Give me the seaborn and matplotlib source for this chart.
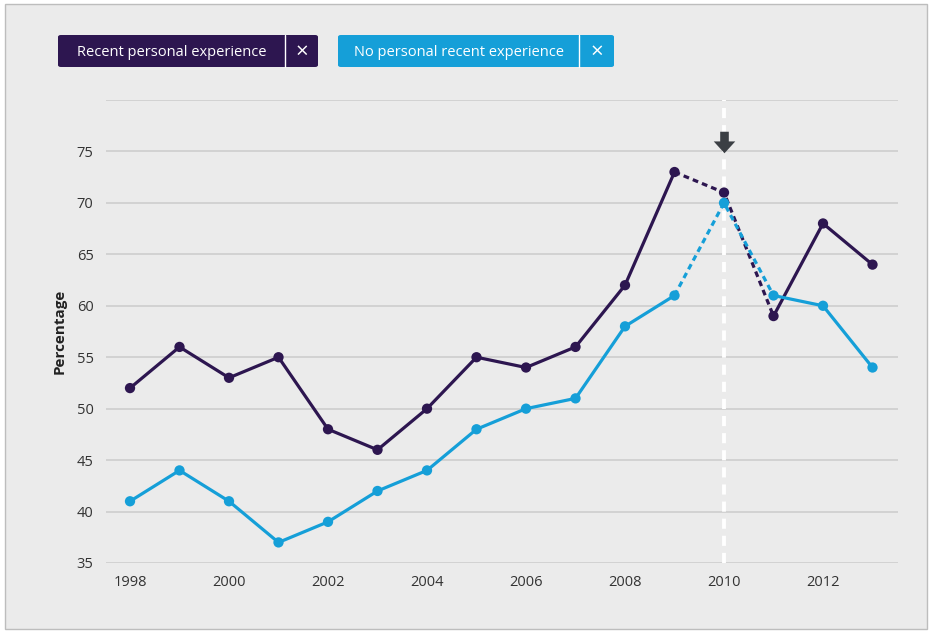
import numpy as np
import pandas as pd
import seaborn as sns
import matplotlib.pyplot as plt
from matplotlib.patches import Rectangle, FancyBboxPatch
from matplotlib.path import Path

### Data
years = [1998, 1999, 2000, 2001, 2002, 2003, 2004, 2005, 2006, 2007, 2008, 2009, 2010, 2011, 2012, 2013]
recent = [52, 56, 53, 55, 48, 46, 50, 55, 54, 56, 62, 73, 71, 59, 68, 64]
no_recent = [41, 44, 41, 37, 39, 42, 44, 48, 50, 51, 58, 61, 70, 61, 60, 54]
series_names = ["Recent personal experience", "No personal recent experience"]
y_ticks = [35, 40, 45, 50, 55, 60, 65, 70, 75]
x_ticks = [1998, 2000, 2002, 2004, 2006, 2008, 2010, 2012]
marked_year = 2010

dark = "#2d1650"
light = "#159fd8"
bg = "#ebebeb"

data = pd.DataFrame({"year": years * 2,
                     "value": recent + no_recent,
                     "series": [series_names[0]] * len(years) + [series_names[1]] * len(years)})

sns.set_theme(style="white")
plt.rcParams['font.family'] = ['Open Sans', 'DejaVu Sans']

W, H = 936, 634
fig = plt.figure(figsize=(W / 100, H / 100), dpi=100, facecolor="white")
fig.patches.append(Rectangle((5 / W, 1 - 629 / H), 922 / W, 625 / H, transform=fig.transFigure,
                             facecolor=bg, edgecolor="#bdbdbd", lw=1, zorder=-10))

ax = fig.add_axes([106 / W, 1 - 563 / H, 792 / W, 463 / H])
ax.set_facecolor(bg)

############ Lines: solid parts, dashed around the marked year ##########
colors = {series_names[0]: dark, series_names[1]: light}
for name in series_names:
    d = data[data.series == name]
    for part, style in [(d[d.year <= 2009], "-"), (d[d.year >= 2011], "-"),
                        (d[(d.year >= 2009) & (d.year <= 2011)], (0, (1.8, 1.3)))]:
        sns.lineplot(data=part, x="year", y="value", ax=ax, color=colors[name],
                     lw=2.3, linestyle=style, zorder=3)
    sns.scatterplot(data=d, x="year", y="value", ax=ax, color=colors[name],
                    s=55, edgecolor="none", zorder=4)

######### Marker line for 2010 ###########
ax.axvline(marked_year, color="white", lw=2.8, linestyle=(0, (2.6, 1.8)), zorder=2)
arrow = Path([(-0.2, 0.5), (0.2, 0.5), (0.2, 0.05), (0.5, 0.05), (0, -0.5),
              (-0.5, 0.05), (-0.2, 0.05), (-0.2, 0.5)])
ax.plot([marked_year], [75.9], marker=arrow, markersize=15.5, color="#3b3f44",
        markeredgewidth=0, zorder=5, clip_on=False)

ax.set_xlim(1997.515, 2013.515)
ax.set_ylim(35, 80)
ax.set_yticks(y_ticks + [80])
ax.set_yticklabels([str(v) for v in y_ticks] + [""])
ax.set_xticks(x_ticks)
ax.set_xticklabels([str(v) for v in x_ticks])
ax.grid(axis="y", color="#cdcdcd", lw=1.2)
ax.grid(axis="x", visible=False)
ax.set_axisbelow(True)
for s in ax.spines.values():
    s.set_visible(False)
ax.tick_params(length=0, labelsize=10.5, labelcolor="#333333", pad=9)
ax.set_xlabel("")
ax.set_ylabel("Percentage", fontsize=11, fontweight="bold", color="#222222", labelpad=7)
if ax.get_legend() is not None:
    ax.get_legend().remove()

########## Legend buttons ##############
def button(x0, x1, xdiv, label, color):
    y0, y1 = 35, 67
    fig.patches.append(FancyBboxPatch((x0 / W, 1 - y1 / H), (x1 - x0) / W, (y1 - y0) / H,
                                      boxstyle="round,pad=0,rounding_size=0.003",
                                      transform=fig.transFigure, facecolor=color,
                                      edgecolor="none", zorder=1))
    fig.lines.append(plt.Line2D([xdiv / W, xdiv / W], [1 - y1 / H, 1 - y0 / H],
                                transform=fig.transFigure, color="white", lw=1, zorder=2))
    fig.text((x0 + xdiv) / 2 / W, 1 - 52 / H, label, color="white", fontsize=10.5,
             ha="center", va="center", zorder=3)
    fig.text((xdiv + x1) / 2 / W, 1 - 52 / H, "\u00d7", color="white", fontsize=16,
             ha="center", va="center", zorder=3)

button(58, 318, 285, series_names[0], dark)
button(338, 614, 579, series_names[1], light)

plt.savefig("out.png", dpi=100, facecolor="white")
